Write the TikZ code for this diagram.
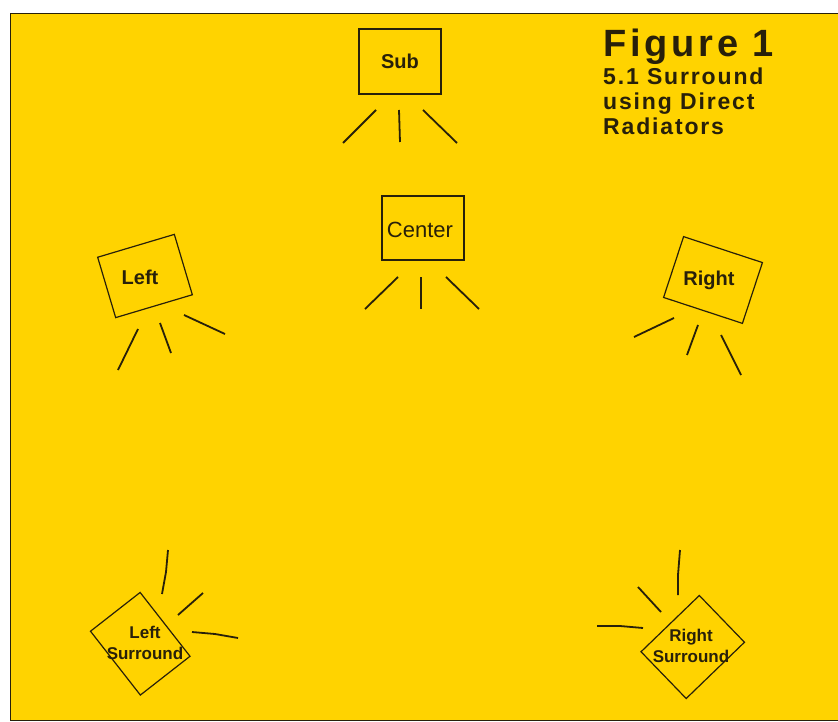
\documentclass[tikz,border=0pt]{standalone}
\usepackage{fontspec}
\newfontfamily\hv{Liberation Sans}
\newfontfamily\titlefont[LetterSpace=10]{Liberation Sans}
\newfontfamily\subfont[LetterSpace=8]{Liberation Sans}
\definecolor{bgyellow}{RGB}{255,211,0}
\definecolor{ink}{RGB}{40,32,10}
\begin{document}
\begin{tikzpicture}[x=1pt,y=-1pt,
  spk/.style={draw=ink,line width=1.2pt,inner sep=0pt,fill=none},
  lbl/.style={inner sep=0pt,text=ink,font=\hv\bfseries\fontsize{20}{22}\selectfont},
  slbl/.style={inner sep=0pt,text=ink,align=center,font=\hv\bfseries\fontsize{17}{21}\selectfont},
  ray/.style={draw=ink,line width=1.8pt},
  ttl/.style={inner sep=0pt,anchor=base west,text=ink}]
\useasboundingbox (0,0) rectangle (838,722);
\fill[white] (0,0) rectangle (838,722);
\fill[bgyellow] (10,14) rectangle (838,720);
\draw[ink,line width=1pt] (838,14) -- (10,14) -- (10,720) -- (838,720);
% title
\node[ttl,font=\titlefont\bfseries\fontsize{38}{40}\selectfont] (t1) at (603,57) {Figure 1};
\node[ttl,font=\subfont\bfseries\fontsize{23}{25}\selectfont] (t2) at (603,85) {5.1 Surround};
\node[ttl,font=\subfont\bfseries\fontsize{23}{25}\selectfont] (t3) at (603,110) {using Direct};
\node[ttl,font=\subfont\bfseries\fontsize{23}{25}\selectfont] (t4) at (603,135) {Radiators};
% Sub
\node[spk,minimum width=82pt,minimum height=65pt] (sub) at (400,61.5) {};
\node[lbl] (subt) at (sub.center) {Sub};
\draw[ray] (376,110) -- (343,143);
\draw[ray] (399,110) -- (400,142);
\draw[ray] (423,110) -- (457,143);
% Center
\node[spk,minimum width=82pt,minimum height=64pt] (ctr) at (423,228) {};
\node[lbl,font=\hv\fontsize{22}{24}\selectfont] (ctrt) at (420,230) {Center};
\draw[ray] (398,277) -- (365,309);
\draw[ray] (421,277) -- (421,309);
\draw[ray] (446,277) -- (479,309);
% Left
\node[spk,minimum width=80pt,minimum height=63pt,rotate=16.6] (lft) at (145,276) {};
\node[lbl] (lftt) at (140,277) {Left};
\draw[ray] (138,329) -- (118,370);
\draw[ray] (160,323) -- (171,353);
\draw[ray] (184,315) -- (225,334);
% Right
\node[spk,minimum width=83pt,minimum height=64pt,rotate=-18.2] (rgt) at (713,280) {};
\node[lbl] (rgtt) at (709,280) {Right};
\draw[ray] (674,318) -- (634,337);
\draw[ray] (698,325) -- (687,355);
\draw[ray] (721,335) -- (741,375);
% Left Surround
\node[spk,minimum width=63pt,minimum height=81pt,rotate=38] (ls) at (140.25,643.75) {};
\node[slbl] (lst) at (145,643) {Left\\Surround};
\draw[ray] (168,550) -- (166,572) -- (162,594);
\draw[ray] (203,593) -- (178,615);
\draw[ray] (192,632) -- (215,634) -- (238,638);
% Right Surround
\node[spk,minimum width=81pt,minimum height=65pt,rotate=44] (rs) at (692.75,647) {};
\node[slbl] (rst) at (691,646) {Right\\Surround};
\draw[ray] (680,550) -- (678,575) -- (678,595);
\draw[ray] (638,587) -- (661,612);
\draw[ray] (597,626) -- (620,626) -- (643,628);
\end{tikzpicture}
\end{document}
